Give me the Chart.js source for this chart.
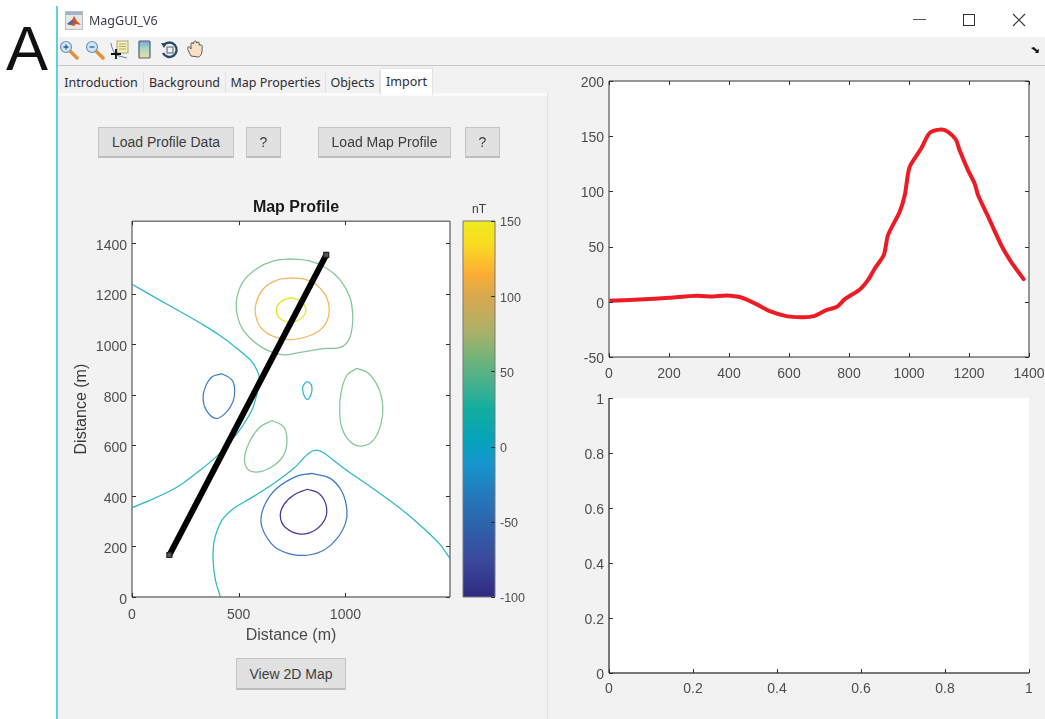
<!DOCTYPE html>
<html>
<head>
<meta charset="utf-8">
<script src="https://cdn.jsdelivr.net/npm/chart.js@4"></script>
<style>
html,body{margin:0;padding:0;background:#fff;width:1045px;height:719px;overflow:hidden}
#page{position:absolute;left:0;top:0;width:1045px;height:719px;overflow:hidden;font-family:"Liberation Sans",Arial,sans-serif;filter:blur(0.45px)}
#page div,#page canvas,#page svg{position:absolute}
.btn{background:#e1e1e1;border:1px solid #c4c4c4;border-bottom:2px solid #bdbdbd;box-sizing:border-box;text-align:center;color:#3c3c3c;font-size:14px;line-height:29px}
.tab{box-sizing:border-box;text-align:center;font-family:"Noto Sans",sans-serif;font-size:12.5px;color:#2b2b33;border-right:1px solid #e2e2e2;background:#f2f2f2;top:71px;height:22px;line-height:23px}
</style>
</head>
<body>
<div id="page">
  <div style="left:56px;top:37px;width:989px;height:682px;background:#f2f2f2"></div>
  <div style="left:56px;top:65px;width:989px;height:1px;background:#c9c9c9"></div>
  <div style="left:56px;top:6px;width:2px;height:713px;background:#62d0d8"></div>
  <div style="left:6px;top:12px;font-size:63px;line-height:72px;color:#111">A</div>

  <svg style="left:65px;top:11px" width="18" height="19" viewBox="0 0 18 19"><rect x="0.5" y="0.5" width="17" height="18" fill="#e8e8e8" stroke="#bcbcbc"/><rect x="1" y="1" width="16" height="3" fill="#9db4cc"/><path d="M2 13 L7 9 L9 5 L12 10 L16 14 L11 13 L9 15 Z" fill="#d9531e"/><path d="M2 13 L7 9 L9 11 L5 14 Z" fill="#3a6ea8"/></svg>
  <div style="left:89px;top:12px;font-family:'Noto Sans',sans-serif;font-size:12.5px;line-height:18px;color:#3c3c44">MagGUI_V6</div>

  <svg style="left:59px;top:40px" width="20" height="20" viewBox="0 0 20 20"><path d="M11 11 L18 18" stroke="#e0923a" stroke-width="3.5" stroke-linecap="round"/><circle cx="7" cy="7" r="5.5" fill="#cfe4f4" stroke="#6f93b3" stroke-width="1.2"/><path d="M4.5 7H9.5M7 4.5V9.5" stroke="#2c5d93" stroke-width="1.3"/></svg>
  <svg style="left:85px;top:40px" width="20" height="20" viewBox="0 0 20 20"><path d="M11 11 L18 18" stroke="#e0923a" stroke-width="3.5" stroke-linecap="round"/><circle cx="7" cy="7" r="5.5" fill="#cfe4f4" stroke="#6f93b3" stroke-width="1.2"/><path d="M4.5 7H9.5" stroke="#2c5d93" stroke-width="1.3"/></svg>
  <svg style="left:110px;top:40px" width="20" height="20" viewBox="0 0 20 20"><path d="M1 3 C2 9 4 14 9 16 L17 18" fill="none" stroke="#4a6fb0" stroke-width="0.9"/><rect x="7" y="1" width="11" height="12" fill="#f4eeb0" stroke="#a9a774"/><path d="M9 4H16M9 6.5H16M9 9H16" stroke="#9a9a70" stroke-width="0.8"/><path d="M6 9V19M1 14H11" stroke="#111" stroke-width="1.8"/></svg>
  <svg style="left:138px;top:40px" width="13" height="19" viewBox="0 0 13 19"><defs><linearGradient id="cb" x1="0" y1="0" x2="0" y2="1"><stop offset="0" stop-color="#7fa3cf"/><stop offset="0.45" stop-color="#a9d8c4"/><stop offset="1" stop-color="#f6d9a0"/></linearGradient></defs><rect x="1" y="1" width="11" height="17" rx="1" fill="url(#cb)" stroke="#44607a" stroke-width="1.2"/></svg>
  <svg style="left:160px;top:41px" width="19" height="18" viewBox="0 0 19 18"><path d="M4 4 A7.2 7.2 0 1 1 3 12" fill="none" stroke="#2c4a68" stroke-width="2.4"/><path d="M1 2 L7 2 L4 7 Z" fill="#2c4a68"/><rect x="7" y="6" width="6" height="6" fill="none" stroke="#5a7693" stroke-width="1.2"/></svg>
  <svg style="left:186px;top:39px" width="20" height="20" viewBox="0 0 20 20"><path d="M5 17 C3 13 1 10 2 8 C3 7 4 8 5 10 L5 5 C5 3 7 3 7 5 L8 3 C9 1 11 2 10 4 L12 3 C14 3 13 5 13 6 L15 6 C17 6 16 9 16 12 C16 15 14 18 12 18 Z" fill="#f7e0c4" stroke="#4c4c4c" stroke-width="0.9"/></svg>

  <div style="left:913px;top:19px;width:13px;height:1px;background:#555"></div>
  <div style="left:963px;top:14px;width:10px;height:10px;border:1px solid #333"></div>
  <svg style="left:1012px;top:13px" width="14" height="14" viewBox="0 0 14 14"><path d="M1 1L13 13M13 1L1 13" stroke="#333" stroke-width="1.1"/></svg>
  <svg style="left:1030px;top:46px" width="10" height="8" viewBox="0 0 10 8"><path d="M1 2L4 1L7 4L9 3L8.5 7L5 7L6 5.5L3 3.5Z" fill="#111"/></svg>

  <div class="tab" style="left:59px;width:85px">Introduction</div>
  <div class="tab" style="left:144px;width:82px">Background</div>
  <div class="tab" style="left:226px;width:100px">Map Properties</div>
  <div class="tab" style="left:326px;width:54px">Objects</div>
  <div style="left:58px;top:93px;width:489px;height:3px;background:#fbfbfb"></div>
  <div style="left:547px;top:93px;width:1px;height:626px;background:#e2e2e2"></div>
  <div class="tab" style="left:380px;width:53px;top:68px;height:27px;line-height:25px;background:#fff;border:1px solid #e2e2e2;border-bottom:0">Import</div>

  <div class="btn" style="left:98px;top:127px;width:136px;height:31px">Load Profile Data</div>
  <div class="btn" style="left:246px;top:127px;width:35px;height:31px">?</div>
  <div class="btn" style="left:318px;top:127px;width:133px;height:31px">Load Map Profile</div>
  <div class="btn" style="left:465px;top:127px;width:35px;height:31px">?</div>
  <div class="btn" style="left:236px;top:658px;width:110px;height:32px;line-height:31px">View 2D Map</div>

  <canvas id="mapChart" width="410" height="449" style="left:70px;top:196px"></canvas>
  <canvas id="barChart" width="81" height="416" style="left:459px;top:201px"></canvas>
  <canvas id="profileChart" width="490" height="319" style="left:569px;top:67px"></canvas>
  <canvas id="emptyChart" width="490" height="319" style="left:569px;top:384px"></canvas>
</div>
<script>
// ---- Map contours, [distance east (m), distance north (m)] ----
const contourGreenOuter = [[742,1337],[664,1329],[586,1299],[523,1250],[492,1187],[489,1134],[508,1075],[547,1029],[617,983],[703,958],[789,967],[898,982],[976,987],[1015,1016],[1032,1068],[1034,1121],[1020,1187],[976,1253],[914,1299],[836,1328],[742,1337]];
const contourOrange = [[750,1262],[679,1253],[617,1220],[583,1167],[578,1121],[601,1068],[656,1033],[742,1018],[828,1032],[890,1062],[922,1115],[914,1180],[867,1233],[812,1256],[750,1262]];
const contourYellow = [[745,1184],[703,1171],[679,1148],[679,1119],[703,1095],[742,1086],[781,1095],[812,1121],[812,1148],[789,1171],[745,1184]];
const contourCyanLeft = [[0,1237],[117,1180],[242,1121],[336,1075],[414,1033],[492,983],[555,937],[586,897],[597,864],[586,805],[562,739],[515,673],[461,614],[398,557],[320,502],[242,452],[180,420],[86,383],[0,353]];
const contourBlueLeft = [[422,883],[375,871],[344,831],[333,785],[348,739],[391,706],[437,726],[473,772],[481,818],[469,858],[422,883]];
const contourCyanSmall = [[817,852],[800,831],[804,802],[823,781],[839,802],[843,829],[833,847],[817,852]];
const contourGreenRight = [[1054,904],[1007,877],[979,805],[973,739],[984,667],[1023,614],[1078,597],[1132,621],[1167,686],[1175,752],[1156,825],[1109,884],[1054,904]];
const contourGreenLower = [[656,698],[601,673],[555,621],[528,555],[539,509],[586,494],[656,515],[711,561],[726,621],[711,673],[656,698]];
const contourCyanBottom = [[414,0],[391,67],[380,146],[386,225],[422,304],[476,350],[555,390],[664,449],[758,509],[828,568],[864,581],[898,570],[992,509],[1117,436],[1257,350],[1367,271],[1445,206],[1492,149]];
const contourBlueBottom = [[843,489],[773,478],[679,430],[625,370],[604,304],[625,245],[679,192],[781,165],[883,179],[961,232],[1000,291],[1007,344],[984,416],[929,469],[843,489]];
const contourPurple = [[820,426],[758,403],[711,364],[695,318],[719,275],[789,249],[859,265],[906,311],[909,364],[875,410],[820,426]];
const profileTrack = [[175,166],[910,1353]];
const mapXTicks = [0,500,1000];
const mapYTicks = [0,200,400,600,800,1000,1200,1400];

// ---- Extracted profile ----
const profileDistance = [0,102,202,291,347,391,441,491,536,591,647,686,724,760,786,836,863,886,916,930,969,986,1002,1041,1069,1108,1130,1156,1169,1197,1219,1230,1269,1308,1341,1382];
const profileAnomaly = [1,2,3.6,5.4,4.8,5.7,3.9,-2.1,-8.5,-13,-13.9,-12.7,-7.6,-4.5,2.4,11.2,19.6,30.2,42.3,60.4,81.6,96.7,122,139,153,156,154,147,137,119,107,96.7,74,51,36,20.5];

// ---- Colour bar ----
const colorbarRange = [-100,150];
const colorbarStops = [[150,'#f0ea1f'],[135,'#f9dc20'],[125,'#fdc52a'],[115,'#fbae35'],[100,'#d9a94f'],[75,'#a9b06a'],[60,'#75b477'],[40,'#3fb191'],[25,'#12ad9f'],[5,'#05a4ba'],[-10,'#1498ce'],[-30,'#227cbc'],[-50,'#2d65ac'],[-75,'#3a4a9c'],[-100,'#2f2a80']];

const FONT = '"Liberation Sans", Arial, sans-serif';
const TICK_COLOR = '#4d4d4d';
const AXIS_COLOR = '#787878';

const toXY = pts => pts.map(p => ({x:p[0], y:p[1]}));
const plain = v => String(+(+v).toFixed(2));
const fixedTicks = arr => s => { s.ticks = arr.map(value => ({value})); };

const matlabAxes = {
  id:'matlabAxes',
  afterLayout(chart,args,o){
    if(o.titleShift && chart.titleBlock){ chart.titleBlock.left += o.titleShift; chart.titleBlock.right += o.titleShift; }
  },
  beforeDatasetsDraw(chart,args,o){
    const {ctx,chartArea:a} = chart;
    if(o.fill){ctx.save();ctx.fillStyle='#fff';ctx.fillRect(a.left,a.top,a.width,a.height);ctx.restore();}
  },
  afterDraw(chart,args,o){
    const {ctx,chartArea:a,scales} = chart;
    ctx.save();
    ctx.strokeStyle = AXIS_COLOR;
    ctx.lineWidth = o.lw;
    ctx.beginPath();
    if(o.box){
      ctx.moveTo(a.left,a.top);ctx.lineTo(a.right,a.top);
      ctx.moveTo(a.right,a.top);ctx.lineTo(a.right,a.bottom);
    }
    ctx.moveTo(a.left,a.top);ctx.lineTo(a.left,a.bottom);
    ctx.moveTo(a.left,a.bottom);ctx.lineTo(a.right,a.bottom);
    ctx.stroke();
    ctx.lineWidth = 1;
    ctx.strokeStyle = '#303030';
    const L = o.tick;
    if(o.xticks!==false) scales.x.ticks.forEach(t=>{
      const px = Math.round(scales.x.getPixelForValue(t.value))+0.5;
      ctx.beginPath();ctx.moveTo(px,a.bottom);ctx.lineTo(px,a.bottom-L);
      if(o.box){ctx.moveTo(px,a.top);ctx.lineTo(px,a.top+L);}
      ctx.stroke();
    });
    scales.y.ticks.forEach(t=>{
      const py = Math.round(scales.y.getPixelForValue(t.value))+0.5;
      ctx.beginPath();
      if(!o.rightOnly){ctx.moveTo(a.left,py);ctx.lineTo(a.left+L,py);}
      if(o.box||o.rightOnly){ctx.moveTo(a.right,py);ctx.lineTo(a.right-L,py);}
      ctx.stroke();
    });
    ctx.restore();
  }
};
Chart.register(matlabAxes);

const contour = (pts,color,tension=0.4) => ({data:toXY(pts),showLine:true,borderColor:color,borderWidth:1.25,pointRadius:0,tension,fill:false,order:2});
const tickFont = {family:FONT,size:14};

new Chart(document.getElementById('mapChart'),{
  type:'scatter',
  data:{datasets:[
    {data:toXY(profileTrack),showLine:true,borderColor:'#000',borderWidth:6,pointStyle:'rect',pointRadius:3.5,pointBorderColor:'#222',pointBackgroundColor:'#555',pointBorderWidth:1.2,order:1},
    contour(contourGreenOuter,'#82c795'),
    contour(contourOrange,'#f7b45c'),
    contour(contourYellow,'#e8e41e'),
    contour(contourCyanLeft,'#2cb8cc',0.3),
    contour(contourBlueLeft,'#3d80c8'),
    contour(contourCyanSmall,'#2cb8cc'),
    contour(contourGreenRight,'#82c795'),
    contour(contourGreenLower,'#82c795'),
    contour(contourCyanBottom,'#2cb8cc',0.25),
    contour(contourBlueBottom,'#3d78c6'),
    contour(contourPurple,'#43389c')
  ]},
  options:{
    responsive:false,animation:false,devicePixelRatio:1,
    layout:{padding:{left:0,right:30,top:0,bottom:0}},
    plugins:{
      legend:{display:false},tooltip:{enabled:false},
      title:{display:true,text:'Map Profile',color:'#1a1a1a',font:{family:FONT,size:16,weight:'bold'},padding:{top:2,bottom:4},align:'center'},
      matlabAxes:{box:true,tick:4,lw:1.5,fill:true,titleShift:36}
    },
    scales:{
      x:{type:'linear',min:0,max:1490,
        afterBuildTicks:fixedTicks(mapXTicks),
        afterFit(s){s.height=48;},
        grid:{display:false,drawTicks:false},border:{display:false},
        ticks:{maxRotation:0,padding:10,color:TICK_COLOR,font:tickFont,callback:plain},
        title:{display:true,text:'Distance (m)',color:'#4a4a4a',font:{family:FONT,size:16},padding:0}},
      y:{type:'linear',min:0,max:1486,
        afterBuildTicks:fixedTicks(mapYTicks),
        afterFit(s){s.width=62;},
        grid:{display:false,drawTicks:false},border:{display:false},
        ticks:{padding:5,labelOffset:3,color:TICK_COLOR,font:tickFont,callback:plain},
        title:{display:true,text:'Distance (m)',color:'#3a3a3a',font:{family:FONT,size:16},padding:{top:2,bottom:0}}}
    }
  }
});

new Chart(document.getElementById('barChart'),{
  type:'bar',
  data:{labels:[''],datasets:[{
    data:[colorbarRange],
    barPercentage:1,categoryPercentage:1,borderWidth:0,
    backgroundColor(c){
      const ch=c.chart,a=ch.chartArea;
      if(!a) return '#888';
      const y=ch.scales.y,g=ch.ctx.createLinearGradient(0,a.top,0,a.bottom);
      colorbarStops.forEach(s=>g.addColorStop((y.getPixelForValue(s[0])-a.top)/a.height,s[1]));
      return g;
    }
  }]},
  options:{
    responsive:false,animation:false,devicePixelRatio:1,
    layout:{padding:{left:4,right:0,top:0,bottom:20}},
    plugins:{
      legend:{display:false},tooltip:{enabled:false},title:{display:false},
      matlabAxes:{box:true,tick:4,lw:1,xticks:false,rightOnly:true}
    },
    scales:{
      x:{position:'top',offset:true,
        afterFit(s){s.height=20;},
        grid:{display:false,drawTicks:false},border:{display:false},
        ticks:{display:false},
        title:{display:true,text:'nT',color:'#3a3a3a',font:{family:FONT,size:12},padding:{top:1,bottom:0}}},
      y:{position:'right',min:colorbarRange[0],max:colorbarRange[1],
        afterFit(s){s.width=45;},
        grid:{display:false,drawTicks:false},border:{display:false},
        ticks:{stepSize:50,padding:5,labelOffset:2,color:TICK_COLOR,font:{family:FONT,size:12.5},callback:plain}}
    }
  }
});

new Chart(document.getElementById('profileChart'),{
  type:'scatter',
  data:{datasets:[{
    data:profileDistance.map((d,i)=>({x:d,y:profileAnomaly[i]})),
    showLine:true,borderColor:'#ed1c24',borderWidth:4,pointRadius:0,tension:0.25,borderCapStyle:'round',borderJoinStyle:'round'
  }]},
  options:{
    responsive:false,animation:false,devicePixelRatio:1,
    layout:{padding:{left:0,right:30,top:14,bottom:0}},
    plugins:{legend:{display:false},tooltip:{enabled:false},title:{display:false},matlabAxes:{box:true,tick:4,lw:1.5,fill:true}},
    scales:{
      x:{type:'linear',min:0,max:1400,
        afterFit(s){s.height=29;},
        grid:{display:true,color:'#e4e4e4',drawTicks:false},border:{display:false},
        ticks:{stepSize:200,maxRotation:0,padding:9,color:TICK_COLOR,font:tickFont,callback:plain}},
      y:{type:'linear',min:-50,max:200,
        afterFit(s){s.width=40;},
        grid:{display:true,color:'#e4e4e4',drawTicks:false},border:{display:false},
        ticks:{stepSize:50,padding:5,labelOffset:2,color:TICK_COLOR,font:tickFont,callback:plain}}
    }
  }
});

new Chart(document.getElementById('emptyChart'),{
  type:'scatter',
  data:{datasets:[{data:[]}]},
  options:{
    responsive:false,animation:false,devicePixelRatio:1,
    layout:{padding:{left:0,right:30,top:14,bottom:0}},
    plugins:{legend:{display:false},tooltip:{enabled:false},title:{display:false},matlabAxes:{box:false,tick:4,lw:2,fill:true}},
    scales:{
      x:{type:'linear',min:0,max:1,
        afterFit(s){s.height=30;},
        grid:{display:false,drawTicks:false},border:{display:false},
        ticks:{stepSize:0.2,maxRotation:0,padding:8,color:TICK_COLOR,font:tickFont,callback:plain}},
      y:{type:'linear',min:0,max:1,
        afterFit(s){s.width=40;},
        grid:{display:false,drawTicks:false},border:{display:false},
        ticks:{stepSize:0.2,padding:5,labelOffset:2,color:TICK_COLOR,font:tickFont,callback:plain}}
    }
  }
});
</script>
</body>
</html>
